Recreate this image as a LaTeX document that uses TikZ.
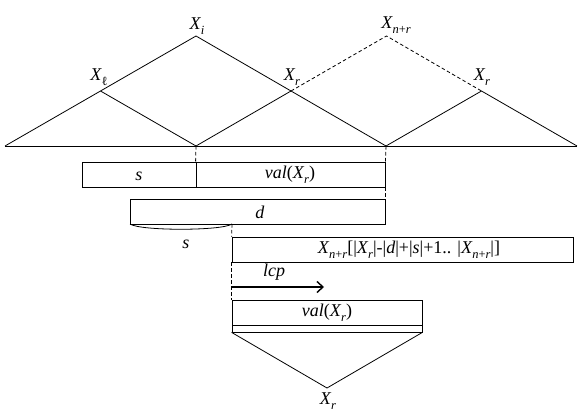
\documentclass[tikz,border=0pt]{standalone}
\usepackage{fontspec}
\setmainfont{Liberation Serif}
\usetikzlibrary{arrows.meta}
\newcommand{\vX}[1]{\textit{X}\kern-0.02em\raisebox{-4.5pt}{\fontsize{12.5}{13}\selectfont #1}}
\newcommand{\ii}[1]{\textit{#1}}
\begin{document}
\begin{tikzpicture}[x=1pt,y=-1pt,
  ln/.style={line width=0.8pt},
  dsh/.style={line width=0.8pt,dash pattern=on 3.5pt off 2.5pt},
  bx/.style={draw,line width=0.8pt,inner sep=0pt,minimum height=25pt},
  lbl/.style={inner sep=0pt,font=\fontsize{18}{20}\selectfont},
  every node/.style={font=\fontsize{18}{20}\selectfont}]
\useasboundingbox (0,0) rectangle (581,420);
% top trees
\coordinate (A) at (5,146);
\coordinate (B) at (196,146);
\coordinate (C) at (386,146);
\coordinate (D) at (577,146);
\coordinate (Xi) at (196,36);
\coordinate (Xl) at (100.5,91);
\coordinate (Xr) at (291,91);
\coordinate (Xnr) at (386.5,36);
\coordinate (Xr2) at (481.5,91);
\draw[ln] (A) -- (D);
\draw[ln] (A) -- (Xl) -- (Xi) -- (Xr) -- (C);
\draw[ln] (Xl) -- (B) -- (Xr);
\draw[ln] (C) -- (Xr2) -- (D);
\draw[dsh] (Xr) -- (Xnr) -- (Xr2);
\node[lbl] (tXi) at (197,26) {\vX{\ii{i}}};
\node[lbl] (tXl) at (99,77) {\vX{ℓ}};
\node[lbl] (tXr) at (292,77) {\vX{\ii{r}}};
\node[lbl] (tXnr) at (396,25) {\vX{\ii{n}+\ii{r}}};
\node[lbl] (tXr2) at (482,77) {\vX{\ii{r}}};
% boxes
\node[bx,minimum width=114pt] (sbox) at (139,174.5) {};
\node[lbl] (ts) at (139,176) {\ii{s}};
\node[bx,minimum width=189pt] (vbox) at (290.5,174.5) {};
\node[lbl] (tv) at (290,175) {\ii{val}(\vX{\ii{r}})};
\node[bx,minimum width=255pt] (dbox) at (257.5,211.5) {};
\node[lbl] (td) at (260,212) {\ii{d}};
\coordinate (bl) at (130,224);
\coordinate (be) at (232,224);
\draw[ln] (bl) .. controls (140,231) and (222,231) .. (be);
\node[lbl] (ts2) at (186,244) {\ii{s}};
\node[bx,minimum width=341pt] (xbox) at (402.5,249.5) {};
\node[lbl] (tx) at (409,250) {\vX{\ii{n}+\ii{r}}[|\vX{\ii{r}}|-|\ii{d}|+|\ii{s}|+1.. |\vX{\ii{n}+\ii{r}}|]};
\node[bx,minimum width=190pt] (lvbox) at (327,312.5) {};
\node[lbl] (tlv) at (327,313) {\ii{val}(\vX{\ii{r}})};
\node[draw,line width=0.8pt,inner sep=0pt,minimum width=190pt,minimum height=7pt] (strip) at (327,328.5) {};
\coordinate (Tb) at (327,388);
\draw[ln] (strip.south west) -- (Tb) -- (strip.south east);
\node[lbl] (tXr3) at (328,401) {\vX{\ii{r}}};
% dashed verticals
\draw[dsh] (B) -- (vbox.north west);
\draw[dsh] (C) -- (vbox.north east);
\draw[dsh] (vbox.south east) -- (dbox.north east);
\draw[dsh] (be) -- (xbox.north west);
\draw[dsh] (xbox.south west) -- (lvbox.north west);
% lcp arrow
\coordinate (a0) at (232,287);
\coordinate (a1) at (324,287);
\draw[line width=1.1pt,-{Straight Barb[length=6pt,width=11pt,line width=1.4pt]}] (a0) -- (a1);
\node[lbl] (tl) at (274,272) {\ii{lcp}};
\end{tikzpicture}
\end{document}
